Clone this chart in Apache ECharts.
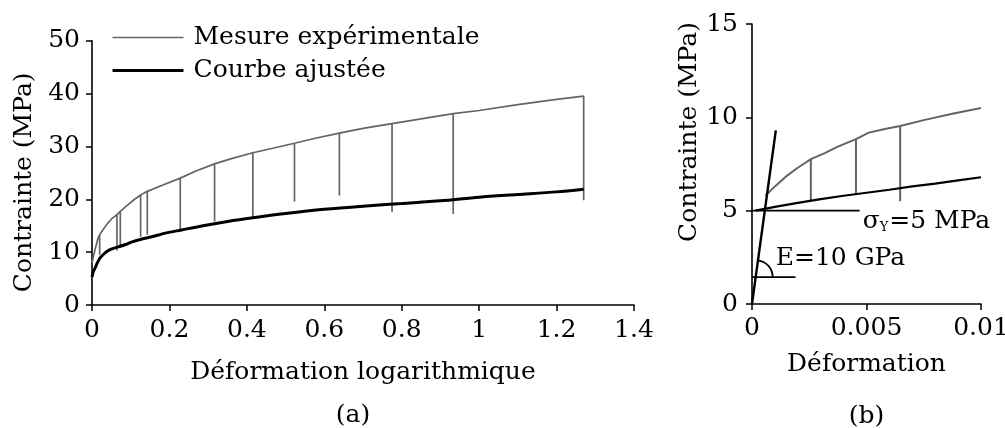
<!DOCTYPE html>
<html>
<head>
<meta charset="utf-8">
<script src="https://cdn.jsdelivr.net/npm/echarts@6/dist/echarts.min.js"></script>
<style>html,body{margin:0;padding:0;background:#fff}#c{width:1005px;height:428px}</style>
</head>
<body>
<div id="c"></div>
<script>
// ---------- Data (a): logarithmic strain vs stress ----------
const expStrainA = [0, 0.004, 0.008, 0.015, 0.0198, 0.0198, 0.0198, 0.028, 0.04, 0.052,
  0.0645, 0.0645, 0.0645, 0.0731, 0.0731, 0.0731, 0.09, 0.11, 0.1256, 0.1256, 0.1256,
  0.1428, 0.1428, 0.1428, 0.18, 0.228, 0.228, 0.228, 0.27, 0.3166, 0.3166, 0.3166,
  0.36, 0.4155, 0.4155, 0.4155, 0.47, 0.523, 0.523, 0.523, 0.58, 0.639, 0.639, 0.639,
  0.70, 0.775, 0.775, 0.775, 0.85, 0.933, 0.933, 0.933, 1.0, 1.1, 1.2, 1.27, 1.27];
const expStressA = [8.0, 9.3, 10.5, 12.5, 13.3, 9.5, 13.3, 14.2, 15.4, 16.4,
  17.1, 10.3, 17.1, 17.7, 10.8, 17.7, 18.8, 20.0, 20.8, 12.9, 20.8,
  21.5, 13.3, 21.5, 22.6, 24.0, 14.0, 24.0, 25.4, 26.7, 15.8, 26.7,
  27.7, 28.8, 16.6, 28.8, 29.7, 30.6, 19.6, 30.6, 31.6, 32.5, 20.7, 32.5,
  33.4, 34.3, 17.6, 34.3, 35.2, 36.2, 17.2, 36.2, 36.8, 37.9, 38.9, 39.5, 19.8];
const fitStrainA = [0, 0.003, 0.008, 0.014, 0.02, 0.03, 0.042, 0.055, 0.068, 0.085, 0.102,
  0.125, 0.154, 0.19, 0.2315, 0.287, 0.35, 0.4155, 0.5, 0.6, 0.7, 0.8, 0.9, 1.0, 1.1, 1.2, 1.27];
const fitStressA = [5.3, 6.2, 7.0, 8.0, 8.8, 9.6, 10.3, 10.7, 11.0, 11.4, 11.9,
  12.4, 12.9, 13.6, 14.2, 15.0, 15.8, 16.5, 17.3, 18.1, 18.7, 19.2, 19.7, 20.4, 20.9, 21.4, 21.9];

// ---------- Data (b): small strain zoom ----------
const expStrainB = [0.00058, 0.001, 0.0015, 0.002, 0.00257, 0.00257, 0.00257, 0.0032, 0.0037,
  0.00454, 0.00454, 0.00454, 0.0051, 0.0058, 0.00647, 0.00647, 0.00647, 0.0075, 0.0088, 0.01];
const expStressB = [5.8, 6.3, 6.85, 7.3, 7.76, 5.55, 7.76, 8.1, 8.4,
  8.83, 5.9, 8.83, 9.18, 9.38, 9.54, 5.5, 9.54, 9.85, 10.2, 10.5];
const fitStrainB = [0.00015, 0.001, 0.002, 0.003, 0.004, 0.005, 0.006, 0.007, 0.008, 0.009, 0.01];
const fitStressB = [5.0, 5.2, 5.42, 5.62, 5.8, 5.96, 6.12, 6.3, 6.45, 6.62, 6.79];
const modulusX = [0, 0.00104];       // E = 10 GPa line
const modulusY = [0, 9.3];
const yieldX = [0, 0.0047];          // sigma_Y = 5 MPa line
const yieldY = [5, 5];
const angleBaseX = [0, 0.0019];      // base line of the angle mark
const angleBaseY = [1.44, 1.44];

const legendNames = ['Mesure expérimentale', 'Courbe ajustée'];
const panelLabels = ['(a)', '(b)'];
const axisNamesA = ['Déformation logarithmique', 'Contrainte (MPa)'];
const axisNamesB = ['Déformation', 'Contrainte (MPa)'];

const zip = (xs, ys) => xs.map((x, i) => [x, ys[i]]);
const FONT = 'DejaVu Serif';
const FS = 25;
const GRAY = '#646464';

const axisCommon = {
  axisLine: { lineStyle: { color: '#000', width: 1.6 } },
  axisTick: { show: true, inside: false, length: 6, lineStyle: { color: '#000', width: 1.5 } },
  splitLine: { show: false },
  axisLabel: { color: '#000', fontFamily: FONT, fontSize: FS },
  nameTextStyle: { color: '#000', fontFamily: FONT, fontSize: FS }
};

const chart = echarts.init(document.getElementById('c'), null, { renderer: 'canvas' });
const option = {
  animation: false,
  backgroundColor: '#fff',
  textStyle: { fontFamily: FONT },
  legend: {
    data: legendNames,
    orient: 'vertical',
    left: 111, top: 25, padding: 0,
    itemWidth: 71, itemHeight: 2, itemGap: 8,
    itemStyle: { opacity: 0 },
    lineStyle: { width: 'inherit' },
    textStyle: { color: '#000', fontFamily: FONT, fontSize: FS, padding: [0, 0, 0, 5] }
  },
  grid: [
    { left: 92, right: 371, top: 40.7, bottom: 123, containLabel: false, outerBoundsMode: 'none' },
    { left: 752, right: 24, top: 24, bottom: 124, containLabel: false, outerBoundsMode: 'none' }
  ],
  xAxis: [
    Object.assign({}, axisCommon, {
      gridIndex: 0, type: 'value', min: 0, max: 1.4, interval: 0.2,
      name: axisNamesA[0], nameLocation: 'middle', nameGap: 55,
      axisLabel: Object.assign({}, axisCommon.axisLabel, { margin: 13 })
    }),
    Object.assign({}, axisCommon, {
      gridIndex: 1, type: 'value', min: 0, max: 0.01, interval: 0.005,
      name: axisNamesB[0], nameLocation: 'middle', nameGap: 48,
      axisLabel: Object.assign({}, axisCommon.axisLabel, { margin: 12 })
    })
  ],
  yAxis: [
    Object.assign({}, axisCommon, {
      gridIndex: 0, type: 'value', min: 0, max: 50, interval: 10,
      name: axisNamesA[1], nameLocation: 'middle', nameGap: 54,
      nameTextStyle: Object.assign({}, axisCommon.nameTextStyle, { padding: [0, 19, 0, 0] }),
      axisLabel: Object.assign({}, axisCommon.axisLabel, { margin: 12 })
    }),
    Object.assign({}, axisCommon, {
      gridIndex: 1, type: 'value', min: 0, max: 15, interval: 5,
      name: axisNamesB[1], nameLocation: 'middle', nameGap: 43,
      nameTextStyle: Object.assign({}, axisCommon.nameTextStyle, { padding: [0, 0, 0, 64] }),
      axisLabel: Object.assign({}, axisCommon.axisLabel, { margin: 14 })
    })
  ],
  series: [
    { name: legendNames[0], type: 'line', xAxisIndex: 0, yAxisIndex: 0, data: zip(expStrainA, expStressA),
      symbol: 'none', lineStyle: { color: GRAY, width: 1.7 }, itemStyle: { color: GRAY } },
    { name: legendNames[1], type: 'line', xAxisIndex: 0, yAxisIndex: 0, data: zip(fitStrainA, fitStressA),
      symbol: 'none', smooth: 0.3, lineStyle: { color: '#000', width: 3 }, itemStyle: { color: '#000' } },
    { name: legendNames[0], type: 'line', xAxisIndex: 1, yAxisIndex: 1, data: zip(expStrainB, expStressB),
      symbol: 'none', lineStyle: { color: GRAY, width: 2 }, itemStyle: { color: GRAY } },
    { name: legendNames[1], type: 'line', xAxisIndex: 1, yAxisIndex: 1, data: zip(fitStrainB, fitStressB),
      symbol: 'none', lineStyle: { color: '#000', width: 2.2 }, itemStyle: { color: '#000' } },
    { name: 'E', type: 'line', xAxisIndex: 1, yAxisIndex: 1, data: zip(modulusX, modulusY),
      symbol: 'none', lineStyle: { color: '#000', width: 2.4 } },
    { name: 'sigmaY', type: 'line', xAxisIndex: 1, yAxisIndex: 1, data: zip(yieldX, yieldY),
      symbol: 'none', lineStyle: { color: '#000', width: 1.6 } },
    { name: 'angle', type: 'line', xAxisIndex: 1, yAxisIndex: 1, data: zip(angleBaseX, angleBaseY),
      symbol: 'none', lineStyle: { color: '#000', width: 1.6 } }
  ]
};
chart.setOption(option);

// Annotations positioned from data coordinates
const pYield = chart.convertToPixel({ gridIndex: 1 }, [yieldX[1], yieldY[1]]);
const pBase0 = chart.convertToPixel({ gridIndex: 1 }, [angleBaseY[0] * modulusX[1] / modulusY[1], angleBaseY[0]]);
const pTop = chart.convertToPixel({ gridIndex: 1 }, [modulusX[1], modulusY[1]]);
const pOrig = chart.convertToPixel({ gridIndex: 1 }, [modulusX[0], modulusY[0]]);
const ang = Math.atan2(pTop[1] - pOrig[1], pTop[0] - pOrig[0]);
const gB = chart.convertToPixel({ gridIndex: 1 }, [0.005, 0]);

chart.setOption({
  graphic: [
    { type: 'text', left: pYield[0] + 3, top: pYield[1] - 2,
      style: { text: '{a|σ}{b|Y}{a|=5 MPa}', rich: {
        a: { fontFamily: FONT, fontSize: FS, fill: '#000' },
        b: { fontFamily: FONT, fontSize: 13, fill: '#000', padding: [12, 1, 0, 0] } } } },
    { type: 'text', x: pBase0[0] + 20, y: 258,
      style: { text: 'E=10 GPa', fontFamily: FONT, fontSize: FS, fill: '#000', verticalAlign: 'middle' } },
    { type: 'arc', shape: { cx: pBase0[0], cy: pBase0[1], r: 17, startAngle: ang, endAngle: 0, clockwise: true },
      style: { stroke: '#000', lineWidth: 1.8, fill: null } },
    { type: 'text', x: 353, y: 415,
      style: { text: panelLabels[0], fontFamily: FONT, fontSize: FS, fill: '#000', align: 'center', verticalAlign: 'middle' } },
    { type: 'text', x: gB[0], y: 416,
      style: { text: panelLabels[1], fontFamily: FONT, fontSize: FS, fill: '#000', align: 'center', verticalAlign: 'middle' } }
  ]
});
</script>
</body>
</html>
